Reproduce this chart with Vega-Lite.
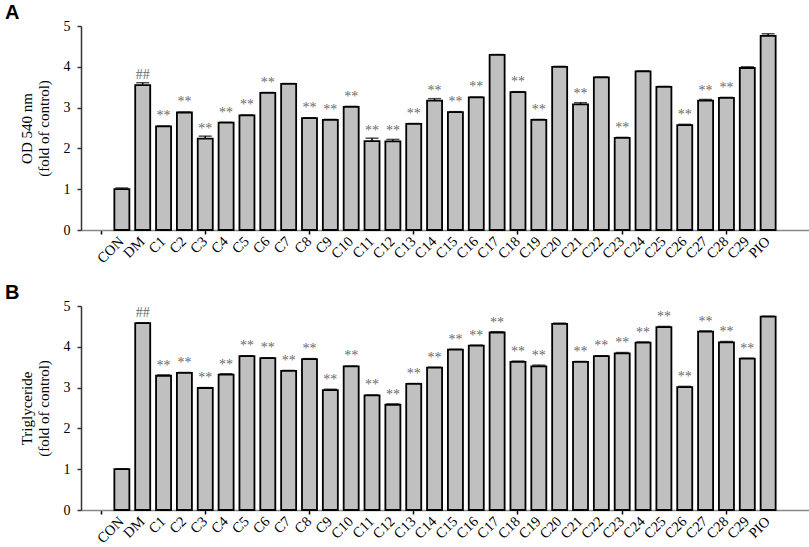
{
  "$schema": "https://vega.github.io/schema/vega-lite/v6.json",
  "background": "white",
  "padding": {"left": 5, "top": 2, "right": 3, "bottom": 0},
  "spacing": 17,
  "config": {
    "view": {"stroke": null},
    "title": {"font": "Liberation Sans", "fontSize": 20, "fontWeight": "bold", "color": "black", "anchor": "start", "frame": "bounds"},
    "axis": {"labelFont": "Liberation Serif", "labelFontSize": 14, "labelColor": "black", "titleFont": "Liberation Serif", "titleFontSize": 15, "titleFontWeight": "normal", "titleColor": "black", "grid": false}
  },
  "datasets": {
    "od": [
      {"name": "CON", "value": 1.00, "err": 0.03, "sig": ""},
      {"name": "DM", "value": 3.55, "err": 0.06, "sig": "##"},
      {"name": "C1", "value": 2.54, "err": 0.01, "sig": "**"},
      {"name": "C2", "value": 2.88, "err": 0.01, "sig": "**"},
      {"name": "C3", "value": 2.24, "err": 0.06, "sig": "**"},
      {"name": "C4", "value": 2.63, "err": 0.01, "sig": "**"},
      {"name": "C5", "value": 2.81, "err": 0.01, "sig": "**"},
      {"name": "C6", "value": 3.36, "err": 0.01, "sig": "**"},
      {"name": "C7", "value": 3.58, "err": 0.01, "sig": ""},
      {"name": "C8", "value": 2.74, "err": 0.01, "sig": "**"},
      {"name": "C9", "value": 2.70, "err": 0.01, "sig": "**"},
      {"name": "C10", "value": 3.02, "err": 0.01, "sig": "**"},
      {"name": "C11", "value": 2.18, "err": 0.07, "sig": "**"},
      {"name": "C12", "value": 2.17, "err": 0.05, "sig": "**"},
      {"name": "C13", "value": 2.60, "err": 0.01, "sig": "**"},
      {"name": "C14", "value": 3.17, "err": 0.05, "sig": "**"},
      {"name": "C15", "value": 2.89, "err": 0.01, "sig": "**"},
      {"name": "C16", "value": 3.25, "err": 0.01, "sig": "**"},
      {"name": "C17", "value": 4.29, "err": 0.01, "sig": ""},
      {"name": "C18", "value": 3.38, "err": 0.01, "sig": "**"},
      {"name": "C19", "value": 2.70, "err": 0.01, "sig": "**"},
      {"name": "C20", "value": 4.00, "err": 0.01, "sig": ""},
      {"name": "C21", "value": 3.08, "err": 0.04, "sig": "**"},
      {"name": "C22", "value": 3.74, "err": 0.01, "sig": ""},
      {"name": "C23", "value": 2.26, "err": 0.01, "sig": "**"},
      {"name": "C24", "value": 3.89, "err": 0.01, "sig": ""},
      {"name": "C25", "value": 3.51, "err": 0.01, "sig": ""},
      {"name": "C26", "value": 2.57, "err": 0.02, "sig": "**"},
      {"name": "C27", "value": 3.17, "err": 0.03, "sig": "**"},
      {"name": "C28", "value": 3.24, "err": 0.01, "sig": "**"},
      {"name": "C29", "value": 3.97, "err": 0.03, "sig": ""},
      {"name": "PIO", "value": 4.76, "err": 0.05, "sig": ""}
    ],
    "tg": [
      {"name": "CON", "value": 1.00, "err": 0.01, "sig": ""},
      {"name": "DM", "value": 4.58, "err": 0.01, "sig": "##"},
      {"name": "C1", "value": 3.29, "err": 0.02, "sig": "**"},
      {"name": "C2", "value": 3.36, "err": 0.01, "sig": "**"},
      {"name": "C3", "value": 2.99, "err": 0.01, "sig": "**"},
      {"name": "C4", "value": 3.32, "err": 0.02, "sig": "**"},
      {"name": "C5", "value": 3.77, "err": 0.01, "sig": "**"},
      {"name": "C6", "value": 3.72, "err": 0.01, "sig": "**"},
      {"name": "C7", "value": 3.41, "err": 0.01, "sig": "**"},
      {"name": "C8", "value": 3.70, "err": 0.01, "sig": "**"},
      {"name": "C9", "value": 2.94, "err": 0.02, "sig": "**"},
      {"name": "C10", "value": 3.52, "err": 0.01, "sig": "**"},
      {"name": "C11", "value": 2.81, "err": 0.01, "sig": "**"},
      {"name": "C12", "value": 2.58, "err": 0.02, "sig": "**"},
      {"name": "C13", "value": 3.09, "err": 0.01, "sig": "**"},
      {"name": "C14", "value": 3.49, "err": 0.01, "sig": "**"},
      {"name": "C15", "value": 3.93, "err": 0.01, "sig": "**"},
      {"name": "C16", "value": 4.03, "err": 0.01, "sig": "**"},
      {"name": "C17", "value": 4.35, "err": 0.02, "sig": "**"},
      {"name": "C18", "value": 3.63, "err": 0.02, "sig": "**"},
      {"name": "C19", "value": 3.52, "err": 0.03, "sig": "**"},
      {"name": "C20", "value": 4.56, "err": 0.02, "sig": ""},
      {"name": "C21", "value": 3.63, "err": 0.01, "sig": "**"},
      {"name": "C22", "value": 3.77, "err": 0.01, "sig": "**"},
      {"name": "C23", "value": 3.84, "err": 0.02, "sig": "**"},
      {"name": "C24", "value": 4.10, "err": 0.02, "sig": "**"},
      {"name": "C25", "value": 4.48, "err": 0.02, "sig": "**"},
      {"name": "C26", "value": 3.01, "err": 0.02, "sig": "**"},
      {"name": "C27", "value": 4.37, "err": 0.02, "sig": "**"},
      {"name": "C28", "value": 4.11, "err": 0.02, "sig": "**"},
      {"name": "C29", "value": 3.71, "err": 0.01, "sig": "**"},
      {"name": "PIO", "value": 4.74, "err": 0.01, "sig": ""}
    ]
  },
  "vconcat": [
    {
      "title": {"text": "A", "dx": -14, "offset": -4},
      "width": 728,
      "height": 204,
      "data": {"name": "od"},
      "encoding": {
        "x": {
          "field": "name", "type": "nominal", "sort": null,
          "scale": {"domain": ["_a", "CON", "DM", "C1", "C2", "C3", "C4", "C5", "C6", "C7", "C8", "C9", "C10", "C11", "C12", "C13", "C14", "C15", "C16", "C17", "C18", "C19", "C20", "C21", "C22", "C23", "C24", "C25", "C26", "C27", "C28", "C29", "PIO", "_b"], "paddingInner": 0.28, "paddingOuter": 0.6},
          "axis": {"title": null, "labelAngle": -45, "labelAlign": "right", "labelBaseline": "middle", "labelPadding": 5, "labelFontSize": 14.5, "labelExpr": "indexof(datum.value, '_') == 0 ? '' : datum.value", "domainColor": "#888888", "domainWidth": 1.5, "tickColor": "black", "tickSize": 4, "tickWidth": 1.5, "tickOpacity": {"condition": {"test": "indexof(['_a','C3','C8','C13','C18','C23','C28'], datum.value) >= 0", "value": 1}, "value": 0}}
        },
        "y": {
          "field": "value", "type": "quantitative",
          "scale": {"domain": [0, 5], "nice": false},
          "axis": {"title": ["OD 540 nm", "(fold of control)"], "titleLineHeight": 17, "titlePadding": 12, "values": [0, 1, 2, 3, 4, 5], "domainColor": "#333333", "domainWidth": 1.5, "tickColor": "#333333", "tickSize": 4, "tickWidth": 1.5, "labelPadding": 7}
        }
      },
      "layer": [
        {"mark": {"type": "errorbar", "ticks": {"size": 13, "thickness": 1.5, "color": "black"}, "thickness": 1.5, "color": "black"}, "encoding": {"yError": {"field": "err"}}},
        {"mark": {"type": "bar", "fill": "#c0c0c0", "stroke": "black", "strokeWidth": 1.8}},
        {"mark": {"type": "text", "font": "Liberation Serif", "fontSize": 14, "fill": "#6a6a6a", "dy": -10, "baseline": "middle"}, "encoding": {"text": {"field": "sig"}}}
      ]
    },
    {
      "title": {"text": "B", "dx": -14, "offset": -4},
      "width": 728,
      "height": 204,
      "data": {"name": "tg"},
      "encoding": {
        "x": {
          "field": "name", "type": "nominal", "sort": null,
          "scale": {"domain": ["_a", "CON", "DM", "C1", "C2", "C3", "C4", "C5", "C6", "C7", "C8", "C9", "C10", "C11", "C12", "C13", "C14", "C15", "C16", "C17", "C18", "C19", "C20", "C21", "C22", "C23", "C24", "C25", "C26", "C27", "C28", "C29", "PIO", "_b"], "paddingInner": 0.28, "paddingOuter": 0.6},
          "axis": {"title": null, "labelAngle": -45, "labelAlign": "right", "labelBaseline": "middle", "labelPadding": 5, "labelFontSize": 14.5, "labelExpr": "indexof(datum.value, '_') == 0 ? '' : datum.value", "domainColor": "#888888", "domainWidth": 1.5, "tickColor": "black", "tickSize": 4, "tickWidth": 1.5, "tickOpacity": {"condition": {"test": "indexof(['_a','C3','C8','C13','C18','C23','C28'], datum.value) >= 0", "value": 1}, "value": 0}}
        },
        "y": {
          "field": "value", "type": "quantitative",
          "scale": {"domain": [0, 5], "nice": false},
          "axis": {"title": ["Triglyceride", "(fold of control)"], "titleLineHeight": 17, "titlePadding": 12, "values": [0, 1, 2, 3, 4, 5], "domainColor": "#333333", "domainWidth": 1.5, "tickColor": "#333333", "tickSize": 4, "tickWidth": 1.5, "labelPadding": 7}
        }
      },
      "layer": [
        {"mark": {"type": "errorbar", "ticks": {"size": 13, "thickness": 1.5, "color": "black"}, "thickness": 1.5, "color": "black"}, "encoding": {"yError": {"field": "err"}}},
        {"mark": {"type": "bar", "fill": "#c0c0c0", "stroke": "black", "strokeWidth": 1.8}},
        {"mark": {"type": "text", "font": "Liberation Serif", "fontSize": 14, "fill": "#6a6a6a", "dy": -10, "baseline": "middle"}, "encoding": {"text": {"field": "sig"}}}
      ]
    }
  ]
}
